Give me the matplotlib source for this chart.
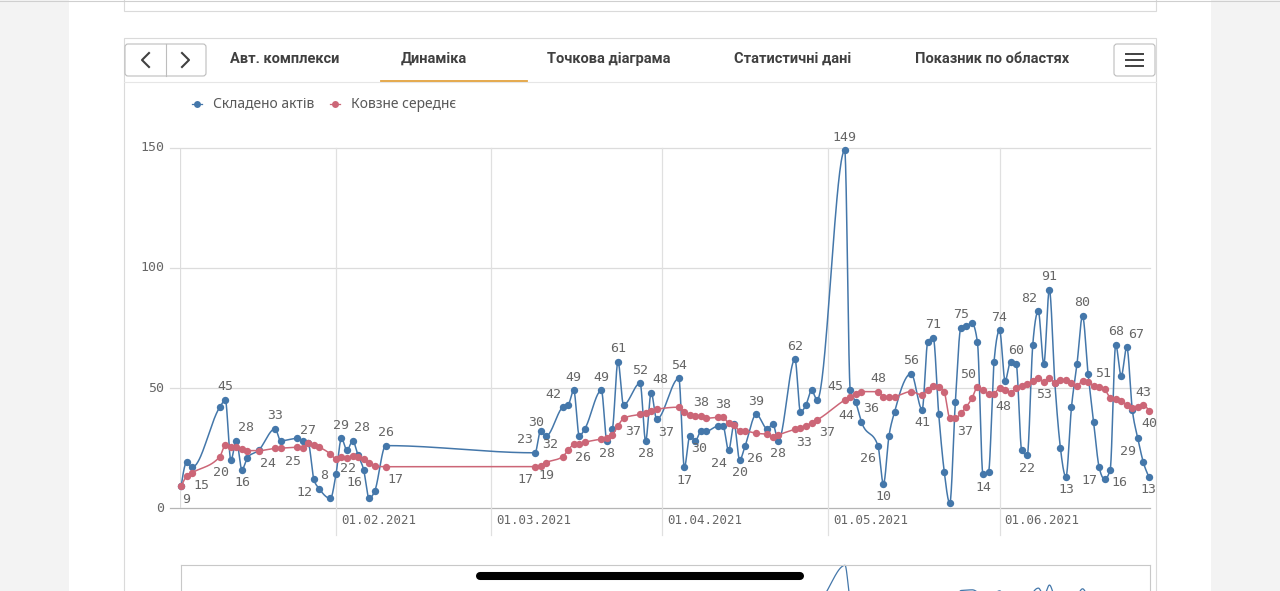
import numpy as np
import pandas as pd
import matplotlib
matplotlib.use('Agg')
from matplotlib import pyplot as plt
from matplotlib.patches import FancyBboxPatch, Rectangle
from matplotlib.lines import Line2D
from matplotlib.transforms import IdentityTransform, offset_copy
import matplotlib.dates as mdates

# ---- data ----
dates = ['04.01', '05.01', '06.01', '11.01', '12.01', '13.01', '14.01', '15.01', '16.01', '18.01',
         '21.01', '22.01', '25.01', '26.01', '27.01', '28.01', '29.01', '31.01', '01.02', '02.02',
         '03.02', '04.02', '05.02', '06.02', '07.02', '08.02', '10.02',
         '09.03', '10.03', '11.03', '14.03', '15.03', '16.03', '17.03', '18.03', '21.03', '22.03',
         '23.03', '24.03', '25.03', '28.03', '29.03', '30.03', '31.03',
         '04.04', '05.04', '06.04', '07.04', '08.04', '09.04', '11.04', '12.04', '13.04', '14.04',
         '15.04', '16.04', '18.04', '20.04', '21.04', '22.04', '25.04', '26.04', '27.04', '28.04', '29.04',
         '04.05', '05.05', '06.05', '07.05', '10.05', '11.05', '12.05', '13.05', '16.05', '18.05',
         '19.05', '20.05', '21.05', '22.05', '23.05', '24.05', '25.05', '26.05', '27.05', '28.05',
         '29.05', '30.05', '31.05',
         '01.06', '02.06', '03.06', '04.06', '05.06', '06.06', '07.06', '08.06', '09.06', '10.06',
         '11.06', '12.06', '13.06', '14.06', '15.06', '16.06', '17.06', '18.06', '19.06', '20.06',
         '21.06', '22.06', '23.06', '24.06', '25.06', '26.06', '27.06', '28.06']

acts = [9, 19, 17, 42, 45, 20, 28, 16, 21, 24, 33, 28, 29, 28, 27, 12, 8, 4, 14, 29, 24, 28, 22, 16, 4, 7, 26,
        23, 32, 30, 42, 43, 49, 30, 33, 49, 28, 33, 61, 43, 52, 28, 48, 37,
        54, 17, 30, 28, 32, 32, 34, 34, 24, 35, 20, 26, 39, 33, 35, 28, 62, 40, 43, 49, 45,
        149, 49, 44, 36, 26, 10, 30, 40, 56, 41, 69, 71, 39, 15, 2, 44, 75, 76, 77, 69, 14, 15, 61,
        74, 53, 61, 60, 24, 22, 68, 82, 60, 91, 52, 25, 13, 42, 60, 80, 56, 36, 17, 12, 16, 68, 55, 67,
        41, 29, 19, 13]

moving = [9, 13.3, 14.7, 21.4, 26.2, 25.4, 25.6, 24.4, 23.9, 23.9, 24.8, 24.9, 25.3, 24.9, 27, 26.2, 25.3,
          22.5, 20.4, 21.1, 21, 21.7, 21.4, 20.4, 18.9, 17.5, 17.2,
          17.2, 17.6, 18.9, 21.4, 24.2, 26.5, 26.8, 27.4, 28.7, 29, 30.4, 34.3, 37.4, 39, 39.4, 40.6, 41.1,
          42, 40.1, 38.8, 38.5, 38.5, 37.4, 37.8, 37.8, 35.3, 34.6, 32.2, 32.1, 31.1, 30.8, 29.4, 30.4,
          32.8, 33.5, 34.3, 35.5, 36.7,
          45, 46.4, 47.4, 48.5, 48.5, 46.4, 46.1, 46.4, 48.5, 47.1, 49.2, 51, 50.5, 48.2, 37.6, 37.4,
          39.4, 42.2, 45.7, 50.3, 49.2, 47.4, 47.6,
          50.1, 49.2, 48, 50.1, 50.8, 51.7, 53, 54, 52.6, 54, 52.2, 53.3, 53.3, 52, 50.8, 53, 52.6, 50.8,
          50.3, 49.4, 46, 45.3, 44.6, 42.9, 41.8, 42.2, 42.9, 40.5]

month_ticks = ['01.02.2021', '01.03.2021', '01.04.2021', '01.05.2021', '01.06.2021']
y_ticks = [0, 50, 100, 150]
tabs = ['Авт. комплекси', 'Динаміка', 'Точкова діаграма', 'Статистичні дані', 'Показник по областях']
series_names = ['Складено актів', 'Ковзне середнє']

BLUE = '#4477aa'
RED = '#cc6677'
GRID = '#e0e0e0'
TXT = '#666666'

W, H = 1280, 591
pix = IdentityTransform()


def monotone(x, y, n=40):
    # monotone cubic curve through the points (like d3 curveMonotoneX)
    x = np.asarray(x, float); y = np.asarray(y, float)
    h = np.diff(x); s = np.diff(y) / h
    t = np.zeros_like(y)
    for i in range(1, len(y) - 1):
        p = (s[i-1] * h[i] + s[i] * h[i-1]) / (h[i-1] + h[i])
        t[i] = (np.sign(s[i-1]) + np.sign(s[i])) * min(abs(s[i-1]), abs(s[i]), 0.5 * abs(p))
    t[0] = (3 * s[0] - t[1]) / 2
    t[-1] = (3 * s[-1] - t[-2]) / 2
    xs, ys = [], []
    for i in range(len(h)):
        u = np.linspace(0, 1, n)
        h00 = 2*u**3 - 3*u**2 + 1
        h10 = u**3 - 2*u**2 + u
        h01 = -2*u**3 + 3*u**2
        h11 = u**3 - u**2
        xs.append(x[i] + u * h[i])
        ys.append(h00*y[i] + h10*h[i]*t[i] + h01*y[i+1] + h11*h[i]*t[i+1])
    return np.concatenate(xs), np.concatenate(ys)


def box(x0, y0, x1, y1, fc='white', ec='none', lw=1.0, r=0, z=0):
    if r:
        p = FancyBboxPatch((x0, H - y1), x1 - x0, y1 - y0, boxstyle='round,pad=0,rounding_size=%g' % r,
                           transform=pix, fc=fc, ec=ec, lw=lw, zorder=z)
    else:
        p = Rectangle((x0, H - y1), x1 - x0, y1 - y0, transform=pix, fc=fc, ec=ec, lw=lw, zorder=z)
    fig.add_artist(p)


def line(xs, ys, c, lw=1.0, z=2, **kw):
    fig.add_artist(Line2D(xs, [H - v for v in ys], transform=pix, color=c, lw=lw, zorder=z, **kw))


def text(x, y, s, **kw):
    fig.text(x / W, 1 - y / H, s, **kw)


fig = plt.figure(figsize=(12.8, 5.91), dpi=100)
fig.patch.set_facecolor('#f3f3f3')

# page / cards
box(69, -5, 1211, 600, fc='white')
line([0, 1280], [0.5, 0.5], '#cfcfcf', lw=0.8)
box(124, -5, 1156, 11, ec='#dadada', lw=0.8)
box(124, 38, 1156, 640, ec='#dadada', lw=0.8)

# nav buttons
box(125, 44, 206, 76, ec='#bdbdbd', lw=0.8, r=3, z=2)
line([165.5, 165.5], [44, 76], '#bdbdbd', lw=0.8, z=3)
line([149, 142, 149], [53, 60, 67], '#404040', lw=1.5, z=3)
line([182, 189, 182], [53, 60, 67], '#404040', lw=1.5, z=3)

# tabs
for s, cx in zip(tabs, [285, 434, 609, 793, 992]):
    text(cx, 59, s, ha='center', va='center', fontsize=10.5, fontweight='bold',
         family='Roboto', color='#404040')
line([381, 527], [80.5, 80.5], '#e3a33f', lw=1.3, z=4)
line([124, 1156], [81.5, 81.5], '#e6e6e6', lw=0.8, z=3)

# menu button
box(1114, 44, 1155, 76, ec='#bdbdbd', lw=0.8, r=3, z=2)
for yy in [54, 60, 66]:
    line([1126, 1128.5], [yy, yy], '#404040', lw=1.4, z=3)
    line([1131, 1143], [yy, yy], '#404040', lw=1.4, z=3)

# legend
for cx, c, name in [(197, BLUE, series_names[0]), (335, RED, series_names[1])]:
    line([cx - 5, cx + 5], [104, 104], c, lw=0.9, z=3)
    line([cx], [104], c, z=4, marker='o', markersize=5, markeredgewidth=0)
    text(cx + 16, 104, name, ha='left', va='center', fontsize=10, family='Noto Sans', color='#595959')

# ---- main chart ----
xd = mdates.date2num(pd.to_datetime([d + '.2021' for d in dates], format='%d.%m.%Y'))
mx = mdates.date2num(pd.to_datetime(month_ticks, format='%d.%m.%Y'))

ax = fig.add_axes([180 / W, 1 - 508 / H, 970 / W, 360 / H])
ax.set_xlim(xd[0] - 0.2, xd[-1] + 0.2)
ax.set_ylim(0, 150)
ax.patch.set_alpha(0)
for sp in ax.spines.values():
    sp.set_visible(False)
ax.set_xticks([]); ax.set_yticks([])

ytr = ax.get_yaxis_transform()
xtr = ax.get_xaxis_transform()
for v in y_ticks:
    ax.plot([-0.0105, 1], [v, v], transform=ytr, clip_on=False,
            color='#b5b5b5' if v == 0 else '#dcdcdc', lw=0.9, zorder=1)
    ax.text(-0.016, v, str(v), transform=ytr, ha='right', va='center',
            family='DejaVu Sans Mono', fontsize=9.5, color=TXT)
ax.plot([0, 0], [0, 1], transform=ax.transAxes, color='#dcdcdc', lw=0.9, zorder=1)
lab_tr = offset_copy(xtr, fig=fig, x=5, y=0, units='dots')
for m, s in zip(mx, month_ticks):
    ax.plot([m, m], [-0.075, 1], transform=xtr, clip_on=False, color=GRID, lw=0.9, zorder=1)
    ax.text(m, -0.034, s, transform=lab_tr, ha='left', va='center',
            family='DejaVu Sans Mono', fontsize=9, color=TXT)

bx, by = monotone(xd, acts)
rx, ry = monotone(xd, moving)
ax.plot(bx, by, color=BLUE, lw=1.1, zorder=3, clip_on=False)
ax.plot(xd, acts, 'o', color=BLUE, markersize=5.3, markeredgewidth=0, zorder=4, clip_on=False)
ax.plot(rx, ry, color=RED, lw=1.1, zorder=5, clip_on=False)
ax.plot(xd, moving, 'o', color=RED, markersize=5.3, markeredgewidth=0, zorder=6, clip_on=False)

# value labels: greedy placement in free space
obs = np.vstack([ax.transData.transform(np.column_stack([bx, by])),
                 ax.transData.transform(np.column_stack([rx, ry])),
                 ax.transData.transform(np.column_stack([xd, acts])),
                 ax.transData.transform(np.column_stack([xd, moving]))])
x0p, y0p = ax.transData.transform((xd[0], 0))
x1p, y1p = ax.transData.transform((xd[-1], 150))
placed = []


def free(cx, cy, w, h, m=2.5):
    a0, a1, b0, b1 = cx - w / 2, cx + w / 2, cy - h / 2, cy + h / 2
    if b1 > y1p + 24 or b0 < y0p + 1 or a0 < x0p - 2 or a1 > x1p + 8:
        return False
    ins = (obs[:, 0] > a0 - m) & (obs[:, 0] < a1 + m) & (obs[:, 1] > b0 - m) & (obs[:, 1] < b1 + m)
    if ins.any():
        return False
    for (c0, c1, d0, d1) in placed:
        if a0 < c1 + 3 and a1 > c0 - 3 and b0 < d1 + 2 and b1 > d0 - 2:
            return False
    return True


for vals in [acts, moving]:
    v = np.asarray(vals, float)
    pts = ax.transData.transform(np.column_stack([xd, v]))
    nb = np.convolve(np.r_[v[0], v, v[-1]], [0.5, 0, 0.5], mode='valid')
    prom = v - nb
    for i in np.argsort(-np.abs(prom), kind='stable'):
        s = str(int(round(v[i])))
        w = 7.5 * len(s) + 1
        h = 11
        dy = 13 if prom[i] >= 0 else -13
        for ox, oy in [(0, dy), (w * 0.6, dy), (-w * 0.6, dy), (0, -dy), (w * 0.6, -dy), (-w * 0.6, -dy)]:
            cx, cy = pts[i, 0] + ox, pts[i, 1] + oy
            if free(cx, cy, w, h):
                placed.append((cx - w / 2, cx + w / 2, cy - h / 2, cy + h / 2))
                ax.annotate(s, xy=(xd[i], v[i]), xytext=(ox * 0.72, oy * 0.72), textcoords='offset points',
                            ha='center', va='center', family='DejaVu Sans Mono', fontsize=9.5,
                            color=TXT, zorder=7, annotation_clip=False)
                break

# ---- overview (scroll) chart, cut by the screenshot ----
ax2 = fig.add_axes([181 / W, 1 - 616 / H, 969 / W, 51 / H])
ax2.set_xlim(xd[0] - 0.2, xd[-1] + 0.2)
ax2.set_ylim(0, 150)
ax2.set_xticks([]); ax2.set_yticks([])
for sp in ax2.spines.values():
    sp.set_color('#c8c8c8'); sp.set_linewidth(0.8)
ax2.plot(bx, by, color=BLUE, lw=0.9, clip_on=False)

# phone home indicator
line([480, 800], [576, 576], 'black', lw=5.8, z=10, solid_capstyle='round')

fig.savefig('out.png', dpi=100)
